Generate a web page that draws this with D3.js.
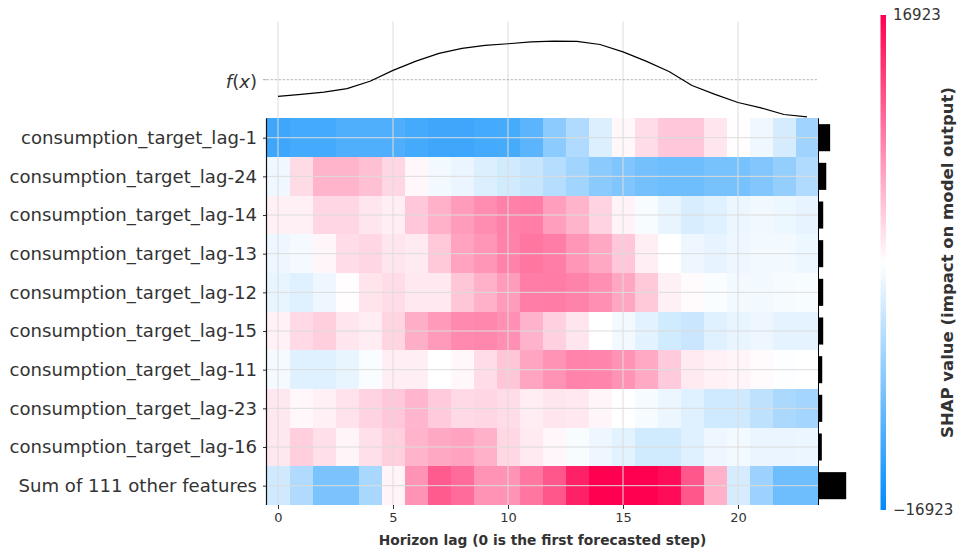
<!DOCTYPE html>
<html>
<head>
<meta charset="utf-8">
<script src="https://cdn.jsdelivr.net/npm/d3@7/dist/d3.min.js"></script>
<style>
  body { margin: 0; background: #fff; }
  text { font-family: 'DejaVu Sans', sans-serif; fill: #333; }
</style>
</head>
<body>
<svg class="shap-heatmap" width="966" height="557"></svg>
<script>
// features, top to bottom
const features = [
  'consumption_target_lag-1', 'consumption_target_lag-24', 'consumption_target_lag-14',
  'consumption_target_lag-13', 'consumption_target_lag-12', 'consumption_target_lag-15',
  'consumption_target_lag-11', 'consumption_target_lag-23', 'consumption_target_lag-16',
  'Sum of 111 other features'
]
const steps = [0, 1, 2, 3, 4, 5, 6, 7, 8, 9, 10, 11, 12, 13, 14, 15, 16, 17, 18, 19, 20, 21, 22, 23]
const xTicks = [0, 5, 10, 15, 20]
const vmax = 16923

// shap values per feature, one per horizon step
const lag1 = [-12800, -12400, -12400, -11700, -11700, -11700, -12400, -12800, -12800, -12400, -12200, -10900, -7600, -5200, -2300, 500, 2300, 3700, 3700, 1700, 100, -1000, -2800, -6300]
const lag24 = [-1000, 2400, 5000, 5000, 4200, 2700, 500, -800, -1400, -2300, -3100, -3700, -4900, -6200, -7700, -8400, -9200, -9600, -9600, -9000, -9000, -8300, -7100, -5200]
const lag14 = [1000, 1000, 2700, 2700, 1700, 1100, 3700, 5200, 6600, 7600, 8400, 8600, 6400, 5000, 2900, 800, -500, -1500, -2600, -2100, -1300, -900, -1200, -1600]
const lag13 = [-1100, -700, 600, 2300, 2700, 1700, 1400, 3600, 6100, 7000, 8300, 9100, 8600, 7000, 5800, 3700, 1100, 0, -1100, -1600, -1100, -800, -800, -1200]
const lag12 = [-1500, -2100, -1100, 100, 1800, 2300, 1500, 1500, 3800, 5200, 6600, 8600, 8700, 8300, 7400, 5900, 3600, 1000, 300, -300, -800, -800, -600, -500]
const lag15 = [900, 2500, 3200, 1700, 1200, 2800, 5400, 6700, 7800, 8000, 7400, 5100, 3100, 1700, 0, -800, -1900, -3100, -3600, -2100, -1500, -1100, -1800, -1800]
const lag11 = [-700, -2100, -2100, -1500, -300, 1100, 1100, 0, 500, 2300, 3800, 6000, 7200, 8200, 8100, 7200, 5700, 3500, 1400, 900, 700, 300, -200, 0]
const lag23 = [1600, 500, 1000, 1900, 2900, 3700, 4900, 3500, 2500, 2700, 2300, 1200, 1700, 1500, 600, 0, -600, -1300, -2100, -3200, -3200, -4300, -5600, -6100]
const lag16 = [1600, 3200, 2100, 700, 2100, 3200, 5000, 5800, 6100, 5200, 2600, 1400, 500, -500, -1100, -1900, -3100, -3100, -2100, -1100, -800, -1400, -1400, -1300]
const others = [-3200, -5200, -8800, -8800, -5700, 700, 7200, 10900, 9800, 7200, 7200, 9100, 11200, 14700, 16900, 16900, 16900, 16100, 11200, 5200, -2700, -6600, -9600, -9600]

// model output relative to base value (scaled by its max abs)
const fx = [-0.43, -0.38, -0.32, -0.23, -0.04, 0.24, 0.48, 0.68, 0.81, 0.89, 0.93, 0.98, 1.0, 0.99, 0.91, 0.72, 0.48, 0.21, -0.15, -0.38, -0.59, -0.73, -0.90, -0.96]

// mean |shap| per feature (right hand bars)
const importance = [4200, 2800, 1700, 1700, 1700, 1700, 1350, 1350, 1200, 10000]

const rows = [lag1, lag24, lag14, lag13, lag12, lag15, lag11, lag23, lag16, others]

const svg = d3.select('.shap-heatmap')

const x = d3.scaleLinear().domain([-0.5, 23.5]).range([266.5, 818.5])
const y = d3.scaleLinear().domain([-3, 9.5]).range([21.7, 505])
const rowH = y(1) - y(0)
const color = d3.scaleLinear()
  .domain([-vmax, 0, vmax])
  .range(['#008bfb', '#ffffff', '#ff0051'])
  .clamp(true)
const barW = d3.scaleLinear().domain([0, d3.max(importance)]).range([0, 27.7])

// heatmap cells
const cells = []
rows.forEach((r, i) => r.forEach((v, j) => cells.push({ row: i, step: steps[j], v })))

svg.append('g')
  .selectAll('rect')
  .data(cells)
  .join('rect')
  .attr('x', d => x(d.step - 0.5))
  .attr('y', d => y(d.row - 0.5))
  .attr('width', x(1) - x(0))
  .attr('height', rowH)
  .attr('fill', d => color(d.v))
  .attr('shape-rendering', 'crispEdges')

// grid
const grid = svg.append('g').attr('stroke', '#dcdcdc').attr('stroke-width', 1)
grid.selectAll('.vg')
  .data(xTicks)
  .join('line')
  .attr('x1', d => x(d)).attr('x2', d => x(d))
  .attr('y1', y(-3)).attr('y2', y(9.5))
grid.selectAll('.hg')
  .data(features.map((f, i) => i))
  .join('line')
  .attr('x1', x(-0.5)).attr('x2', x(23.5))
  .attr('y1', d => y(d)).attr('y2', d => y(d))

// base value line + f(x)
svg.append('line')
  .attr('x1', x(-0.5)).attr('x2', x(23.5))
  .attr('y1', y(-1.5)).attr('y2', y(-1.5))
  .attr('stroke', '#999')
  .attr('stroke-width', 0.7)
  .attr('stroke-dasharray', '2.5,1.5')

const line = d3.line()
  .x((d, i) => x(steps[i]))
  .y(d => y(-1.5 - d))

svg.append('path')
  .datum(fx)
  .attr('fill', 'none')
  .attr('stroke', '#000')
  .attr('stroke-width', 1.2)
  .attr('stroke-linejoin', 'round')
  .attr('d', line)

// importance bars
svg.append('g')
  .selectAll('rect')
  .data(importance)
  .join('rect')
  .attr('x', x(23.5))
  .attr('y', (d, i) => y(i) - rowH * 0.35)
  .attr('width', d => barW(d))
  .attr('height', rowH * 0.7)
  .attr('fill', '#000')

svg.append('line')
  .attr('x1', x(23.5)).attr('x2', x(23.5))
  .attr('y1', y(-0.5)).attr('y2', y(9.5))
  .attr('stroke', '#000')
  .attr('stroke-width', 1)

// left axis
const yAxis = svg.append('g')
  .attr('transform', 'translate(' + x(-0.5) + ',0)')
  .call(d3.axisLeft(y)
    .tickValues(features.map((f, i) => i))
    .tickFormat(i => features[i])
    .tickSize(3.5)
    .tickPadding(6))
yAxis.select('.domain').remove()
yAxis.selectAll('.tick line').attr('stroke', '#333')
yAxis.selectAll('text').style('font-size', '18.1px').attr('fill', '#333')

svg.append('line')
  .attr('x1', x(-0.5)).attr('x2', x(-0.5))
  .attr('y1', y(-0.5)).attr('y2', y(9.5))
  .attr('stroke', '#111')
  .attr('stroke-width', 1.2)

svg.append('line')
  .attr('x1', x(-0.5) - 3.5).attr('x2', x(-0.5))
  .attr('y1', y(-1.5)).attr('y2', y(-1.5))
  .attr('stroke', '#aaa')

const fxLabel = svg.append('text')
  .attr('x', x(-0.5) - 9.5)
  .attr('y', y(-1.5))
  .attr('dy', '0.45em')
  .attr('text-anchor', 'end')
  .style('font-size', '18.1px')
fxLabel.append('tspan').style('font-style', 'italic').text('f')
fxLabel.append('tspan').text('(')
fxLabel.append('tspan').style('font-style', 'italic').text('x')
fxLabel.append('tspan').text(')')

// bottom axis
const xAxis = svg.append('g')
  .attr('transform', 'translate(0,' + y(9.5) + ')')
  .call(d3.axisBottom(x).tickValues(xTicks).tickSize(4).tickPadding(4))
xAxis.select('.domain').remove()
xAxis.selectAll('.tick line').attr('stroke', '#333')
xAxis.selectAll('text').style('font-size', '13px').attr('fill', '#333')

svg.append('text')
  .attr('x', (x(-0.5) + x(23.5)) / 2)
  .attr('y', 545)
  .attr('text-anchor', 'middle')
  .style('font-size', '13.8px')
  .style('font-weight', 'bold')
  .text('Horizon lag (0 is the first forecasted step)')

// colorbar
const cb = d3.scaleLinear().domain([-vmax, vmax]).range([510, 15])
const grad = svg.append('defs').append('linearGradient')
  .attr('id', 'cbgrad')
  .attr('x1', 0).attr('y1', 1).attr('x2', 0).attr('y2', 0)
grad.selectAll('stop')
  .data([-vmax, 0, vmax])
  .join('stop')
  .attr('offset', d => (d + vmax) / (2 * vmax))
  .attr('stop-color', d => color(d))

svg.append('rect')
  .attr('x', 880.5)
  .attr('y', cb(vmax))
  .attr('width', 5.5)
  .attr('height', cb(-vmax) - cb(vmax))
  .attr('fill', 'url(#cbgrad)')

const cbAxis = svg.append('g')
  .attr('transform', 'translate(886,0)')
  .call(d3.axisRight(cb).tickValues([-vmax, vmax]).tickSize(0).tickPadding(7)
    .tickFormat(d => d < 0 ? '\u2212' + Math.abs(d) : d))
cbAxis.select('.domain').remove()
cbAxis.selectAll('text').style('font-size', '15px').attr('fill', '#333')

svg.append('text')
  .attr('transform', 'translate(947,' + (cb(0)) + ') rotate(-90)')
  .attr('text-anchor', 'middle')
  .attr('dy', '0.35em')
  .style('font-size', '16.5px')
  .style('font-weight', 'bold')
  .text('SHAP value (impact on model output)')
</script>
</body>
</html>
